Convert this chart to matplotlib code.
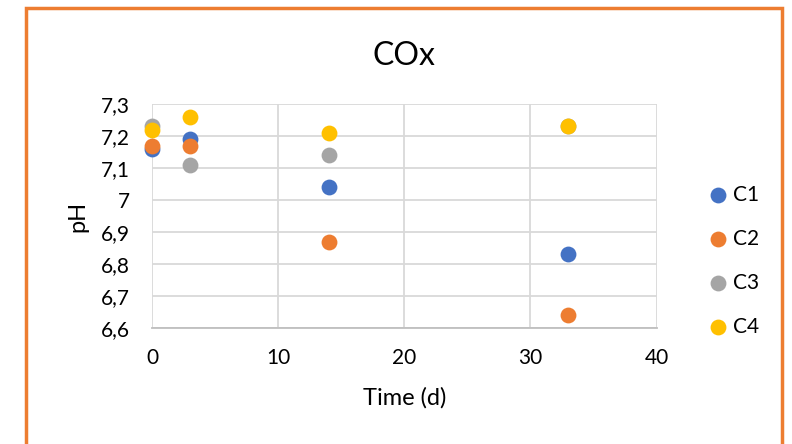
import matplotlib
matplotlib.use('Agg')
import matplotlib.pyplot as plt
from matplotlib.patches import Rectangle
from matplotlib.ticker import FuncFormatter, MultipleLocator

plt.rcParams['font.family'] = ['Lato', 'DejaVu Sans']

# Sampling days and pH readings for each column
days = [0, 3, 14, 33]
series_names = ['C1', 'C2', 'C3', 'C4']
ph_c1 = [7.16, 7.19, 7.04, 6.83]
ph_c2 = [7.17, 7.17, 6.87, 6.64]
ph_c3 = [7.23, 7.11, 7.14, 7.23]
ph_c4 = [7.22, 7.26, 7.21, 7.23]
colors = ['#4472C4', '#ED7D31', '#A5A5A5', '#FFC000']

fig = plt.figure(figsize=(7.92, 4.44), dpi=100)
ax = fig.add_axes([0.192, 0.261, 0.637, 0.505])

for name, vals, col in zip(series_names, [ph_c1, ph_c2, ph_c3, ph_c4], colors):
    ax.scatter(days, vals, s=130, color=col, label=name, zorder=3, clip_on=False, linewidths=0)

ax.set_xlim(0, 40)
ax.set_ylim(6.6, 7.3)
ax.xaxis.set_major_locator(MultipleLocator(10))
ax.yaxis.set_major_locator(MultipleLocator(0.1))

def comma_fmt(v, pos):
    s = f'{v:.1f}'.replace('.', ',')
    return s[:-2] if s.endswith(',0') else s

ax.yaxis.set_major_formatter(FuncFormatter(comma_fmt))
ax.grid(True, color='#D9D9D9', linewidth=1.3, zorder=0)
ax.set_axisbelow(True)
for side in ['top', 'right', 'left']:
    ax.spines[side].set_visible(False)
ax.spines['bottom'].set_color('#BFBFBF')
ax.spines['bottom'].set_linewidth(1.3)
ax.tick_params(length=0, labelsize=15, colors='#000000')
ax.tick_params(axis='x', pad=14)
ax.tick_params(axis='y', pad=16)

ax.set_title('COx', fontsize=23, pad=28)
ax.set_xlabel('Time (d)', fontsize=17, labelpad=14)
ax.set_ylabel('pH', fontsize=17, labelpad=9)

ax.legend(loc='center left', bbox_to_anchor=(1.06, 0.30), frameon=False,
          fontsize=15, labelspacing=1.15, handletextpad=0.1, handlelength=1.2,
          scatterpoints=1)

# Orange frame around the chart
fig.patches.append(Rectangle((26 / 792, -0.1), (782 - 26) / 792, 1.1 - 8 / 444,
                             transform=fig.transFigure, fill=False,
                             edgecolor='#ED7D31', linewidth=2.5))

fig.savefig('out.png', dpi=100, facecolor='white')
